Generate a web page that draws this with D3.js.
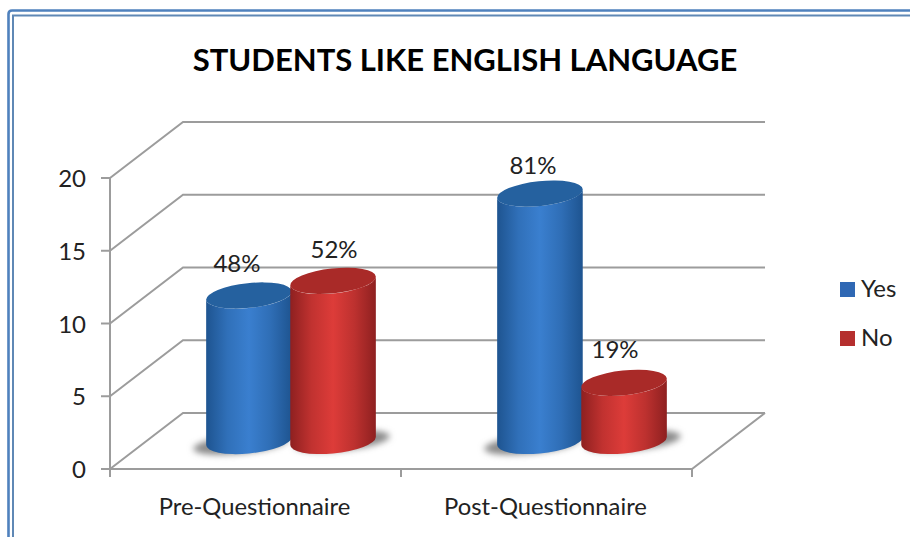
<!DOCTYPE html>
<html>
<head>
<meta charset="utf-8">
<script src="https://cdn.jsdelivr.net/npm/d3@7"></script>
<style>
html,body{margin:0;padding:0;background:#fff;}
svg{display:block;}
text{font-family:Lato,"Open Sans",sans-serif;fill:#222;}
</style>
</head>
<body>
<svg id="chart" width="910" height="537"></svg>
<script>
const chartTitle = "STUDENTS LIKE ENGLISH LANGUAGE";
const categories = ["Pre-Questionnaire", "Post-Questionnaire"];
const seriesNames = ["Yes", "No"];
const yesValues = [10, 17];
const noValues = [11, 4];
const respondents = 21;
const yTicks = [0, 5, 10, 15, 20];
const seriesFill = {
  Yes: {edge: "#1e5490", mid: "#3a7fcf", top: "#25619f", swatch: "#2f68b4"},
  No: {edge: "#8e2020", mid: "#dd3c39", top: "#a92a28", swatch: "#b52f2e"}
};

const svg = d3.select("#chart");
const W = 910, H = 537;

// Front plane of the 3D plot box and the depth offset of its back wall
const frontLeft = 110, frontRight = 692, frontBase = 469, frontTop = 178;
const depthX = 73, depthY = -56;

const y = d3.scaleLinear().domain([0, 20]).range([frontBase, frontTop]);
const x0 = d3.scaleBand().domain(categories).range([frontLeft, frontRight]);
const x1 = d3.scaleBand().domain(seriesNames).range([0, x0.bandwidth()]).paddingInner(0).paddingOuter(0.73);

// Double frame: it runs off the right and bottom of the page
svg.append("path")
  .attr("d", `M8.5,${H} V14 Q8.5,10.5 12,10.5 H${W}`)
  .attr("fill", "none").attr("stroke", "#4f81bd").attr("stroke-width", 2.6);
svg.append("path")
  .attr("d", `M13,${H} V15.5 H${W}`)
  .attr("fill", "none").attr("stroke", "#5f88b5").attr("stroke-width", 2);

svg.append("text").attr("x", 465).attr("y", 71).attr("text-anchor", "middle")
  .attr("font-size", 31).attr("font-weight", 700).style("fill", "#000")
  .text(chartTitle);

const defs = svg.append("defs");
seriesNames.forEach(name => {
  const c = seriesFill[name];
  const g = defs.append("linearGradient").attr("id", "body" + name);
  [[0, c.edge], [0.25, d3.interpolateRgb(c.edge, c.mid)(0.65)], [0.5, c.mid],
   [0.75, d3.interpolateRgb(c.edge, c.mid)(0.6)], [1, c.edge]].forEach(([o, col]) =>
    g.append("stop").attr("offset", o).attr("stop-color", col));
});
defs.append("filter").attr("id", "soft")
  .attr("x", "-30%").attr("y", "-60%").attr("width", "160%").attr("height", "220%")
  .append("feGaussianBlur").attr("stdDeviation", 3);

const gridColor = "#9c9c9c";
const grid = svg.append("g").attr("fill", "none").attr("stroke", gridColor).attr("stroke-width", 2);

// Gridlines: slanted on the side wall, horizontal on the back wall
yTicks.forEach(t => {
  grid.append("path").attr("d",
    `M${frontLeft},${y(t)} L${frontLeft + depthX},${y(t) + depthY} H${frontRight + depthX}`);
});
// Floor front edge and right edge
grid.append("path").attr("d",
  `M${frontLeft},${frontBase} H${frontRight} L${frontRight + depthX},${frontBase + depthY}`);

// Value axis with outward ticks, category axis with ticks below the floor
grid.append("path").attr("d", `M${frontLeft},${frontTop} V${frontBase + 8}`);
yTicks.forEach(t => grid.append("path").attr("d", `M${frontLeft - 9},${y(t)} H${frontLeft}`));
[frontLeft, frontLeft + x0.bandwidth(), frontRight].forEach(px =>
  grid.append("path").attr("d", `M${px},${frontBase} V${frontBase + 8}`));

svg.append("g").selectAll("text").data(yTicks).join("text")
  .attr("x", 86).attr("y", d => y(d) + 9).attr("text-anchor", "end")
  .attr("font-size", 24).text(d => d);

svg.append("g").selectAll("text").data(categories).join("text")
  .attr("x", d => x0(d) + x0.bandwidth() / 2 - 1)
  .attr("y", 515).attr("text-anchor", "middle")
  .attr("font-size", 23.8).text(d => d);

// Cylinders stand halfway along the floor depth
const rx = 43, ry = 12.4, tilt = -6 * Math.PI / 180;
const tExt = Math.atan2(-ry * Math.sin(tilt), rx * Math.cos(tilt));
const extX = rx * Math.cos(tExt) * Math.cos(tilt) - ry * Math.sin(tExt) * Math.sin(tilt);
const extY = rx * Math.cos(tExt) * Math.sin(tilt) + ry * Math.sin(tExt) * Math.cos(tilt);
const tiltDeg = tilt * 180 / Math.PI;

const rows = categories.flatMap((cat, i) => [
  {cat, name: "Yes", value: yesValues[i]},
  {cat, name: "No", value: noValues[i]}
]);
const cxOf = d => x0(d.cat) + x1(d.name) + x1.bandwidth() / 2 + depthX / 2 - 1;
const baseOf = y(0) + depthY / 2;
const topOf = d => y(d.value) + depthY / 2;

const bars = svg.append("g").selectAll("g").data(rows).join("g");

// Contact shadow on the floor, falling outward from each pair
bars.append("ellipse")
  .attr("transform", d => `translate(${cxOf(d) + (d.name === "Yes" ? -8 : 9)},${baseOf + (d.name === "Yes" ? 3 : 0)}) rotate(${tiltDeg})`)
  .attr("rx", rx + 5).attr("ry", ry - 3)
  .attr("fill", "#8a8a8a").attr("filter", "url(#soft)");

bars.append("path")
  .attr("d", d => {
    const cx = cxOf(d), t = topOf(d);
    return `M${cx - extX},${t - extY}` +
      `L${cx - extX},${baseOf - extY}` +
      `A${rx},${ry} ${tiltDeg} 0 0 ${cx + extX},${baseOf + extY}` +
      `L${cx + extX},${t + extY}` +
      `A${rx},${ry} ${tiltDeg} 0 1 ${cx - extX},${t - extY}Z`;
  })
  .attr("fill", d => `url(#body${d.name})`);

bars.append("ellipse")
  .attr("transform", d => `translate(${cxOf(d)},${topOf(d)}) rotate(${tiltDeg})`)
  .attr("rx", rx).attr("ry", ry)
  .attr("fill", d => seriesFill[d.name].top);

// Percentage of respondents above each cylinder, hand-nudged clear of the neighbours
const pct = d3.format(".0%");
const labelNudge = [[-12, -24], [1, -23], [-7, -20], [-9, -25]];
svg.append("g").selectAll("text").data(rows).join("text")
  .attr("x", (d, i) => cxOf(d) + labelNudge[i][0])
  .attr("y", (d, i) => topOf(d) + labelNudge[i][1])
  .attr("text-anchor", "middle")
  .attr("font-size", 24)
  .text(d => pct(d.value / respondents));

// Legend
const legend = svg.append("g").selectAll("g").data(seriesNames).join("g")
  .attr("transform", (d, i) => `translate(840,${282 + i * 49})`);
legend.append("rect").attr("width", 15).attr("height", 15)
  .attr("fill", d => seriesFill[d].swatch);
legend.append("text").attr("x", 21).attr("y", 15).attr("font-size", 24).text(d => d);
</script>
</body>
</html>
